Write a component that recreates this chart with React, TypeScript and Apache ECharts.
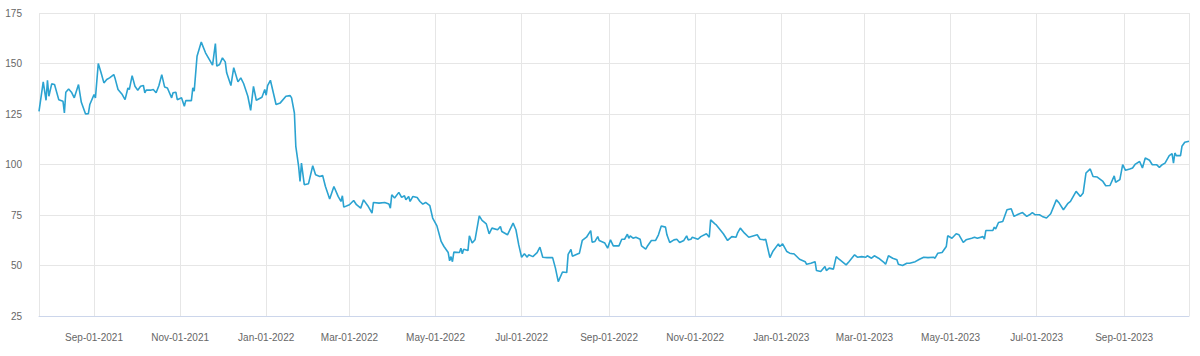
import React, { useEffect, useRef } from "react";
import * as echarts from "echarts";

// Base date for day offsets (Sep 1, 2021)
const BASE_YEAR = 2021;
const BASE_MONTH = 8; // September (0-based)
const BASE_DAY = 1;

// [days from Sep-01-2021, price]
const pricePoints: [number, number][] = [
  [-39, 126.3], [-36, 140.9], [-34, 131.8], [-33, 141.7], [-32, 133.8], [-30, 139.9], [-28, 139.6], [-25, 132.1],
  [-22, 131.3], [-21, 125.5], [-20, 135.8], [-18, 137.4], [-16, 135.8], [-14, 133], [-11, 139.6], [-9, 130.8],
  [-6, 125], [-4, 125.2], [-3, 129.7], [0, 134.6], [1, 133], [3, 150], [5, 145.4], [7, 140.4], [9, 142.1],
  [11, 142.9], [14, 144.5], [15, 142.4], [17, 137.1], [20, 134.6], [22, 132.1], [24, 137.9], [25, 137.1],
  [27, 144], [29, 138.7], [31, 136.8], [33, 138.7], [35, 139.1], [36, 135.5], [37, 136.8], [40, 136.8],
  [42, 137.1], [44, 135.5], [46, 139.1], [48, 144.5], [50, 138.4], [52, 137.9], [55, 133], [56, 135.5],
  [58, 135.8], [59, 132.1], [62, 133], [64, 128.8], [65, 131.6], [69, 131.6], [70, 137.9], [71, 136.3],
  [73, 153.6], [76, 160.6], [79, 155.3], [84, 149.2], [86, 159.9], [87, 148.7], [89, 149.5], [91, 152.8],
  [93, 150.8], [94, 145.4], [97, 139.1], [99, 147.9], [102, 140.9], [104, 142.9], [106, 140.1], [109, 133.8],
  [111, 126.8], [113, 138.7], [115, 131.8], [119, 133.3], [121, 137.1], [122, 134.3], [123, 139.1], [125, 141.7],
  [129, 129.7], [132, 130.5], [136, 133.8], [139, 134.1], [140, 133], [142, 125.5], [143, 109], [145, 99.1],
  [146, 91.6], [147, 100.7], [149, 90], [152, 90.5], [155, 99.4], [157, 94.9], [160, 94.1], [162, 94.6],
  [164, 89.1], [167, 82.9], [170, 89.1], [173, 84.2], [175, 81.7], [176, 84.5], [177, 78.9], [181, 80.1],
  [184, 82.2], [186, 80.1], [189, 78.4], [191, 82.5], [194, 79.6], [197, 75.9], [198, 81.2], [202, 80.9],
  [206, 81.2], [209, 80.4], [210, 78.4], [211, 85], [213, 83.4], [216, 86.2], [218, 83.7], [220, 84.5],
  [221, 82.5], [223, 84.2], [224, 81.7], [226, 84.2], [229, 83.7], [231, 81.7], [233, 80.4], [235, 81.2],
  [238, 79.6], [240, 73.5], [243, 69.6], [246, 61.9], [248, 59.4], [251, 56.4], [252, 52.3], [253, 54.4],
  [254, 51.9], [255, 56.6], [259, 56.4], [260, 58.6], [261, 55.8], [262, 58.1], [265, 57.4], [266, 64.7],
  [268, 61.1], [270, 62.7], [273, 74.6], [275, 72.3], [278, 70.6], [280, 65.7], [282, 68.5], [286, 67.7],
  [288, 69.3], [289, 66.8], [293, 65.2], [297, 71], [299, 67.7], [301, 60.2], [303, 54.1], [305, 55.8],
  [307, 54.1], [308, 55.3], [311, 54.4], [314, 56.4], [316, 59.1], [318, 54.1], [321, 53.9], [325, 53.9],
  [327, 48.7], [329, 42], [332, 46.8], [335, 46.5], [336, 55.5], [338, 58], [339, 54.6], [343, 55.8],
  [344, 56.1], [346, 62.4], [349, 64], [352, 67.3], [353, 61.5], [355, 61.9], [357, 64.3], [358, 62.4],
  [362, 61.1], [364, 58.6], [366, 62.7], [368, 59.7], [372, 59.7], [374, 63], [376, 63], [378, 65.5],
  [379, 63.5], [380, 64.7], [382, 63.5], [384, 64], [387, 63], [388, 59.7], [391, 58.1], [392, 59.4],
  [395, 62.4], [398, 62.4], [400, 65.2], [402, 69.6], [405, 69], [406, 65.2], [408, 61.4], [411, 62.7],
  [413, 63], [415, 61.4], [418, 62.4], [420, 64.7], [421, 62.7], [423, 63], [424, 64], [428, 63],
  [430, 64.3], [434, 65.7], [436, 64], [437, 72.6], [440, 70.6], [441, 70.1], [446, 65.7], [449, 62.4],
  [452, 64.3], [455, 64], [456, 66], [458, 68.5], [461, 66], [464, 64], [470, 65.2], [472, 63],
  [475, 62.7], [476, 63], [479, 53.9], [481, 56.9], [485, 60.7], [486, 59.4], [488, 60.7], [491, 56.9],
  [493, 56.1], [495, 55.8], [496, 55.8], [500, 53.1], [504, 51.9], [505, 50.6], [508, 51.1], [511, 51.9],
  [512, 47.5], [515, 47], [518, 49.5], [519, 47.5], [521, 48.7], [524, 48.2], [526, 54.4], [528, 53.1],
  [533, 50.3], [535, 51.9], [539, 55.3], [541, 54.1], [544, 54.4], [547, 54.1], [548, 54.8], [551, 53.6],
  [553, 54.8], [556, 53.6], [560, 51.4], [561, 50.6], [563, 54.8], [566, 53.6], [569, 52.8], [570, 50.6],
  [573, 50], [576, 51.1], [578, 51.1], [582, 51.9], [585, 53.1], [588, 54.1], [591, 53.9], [595, 54.1],
  [596, 53.6], [598, 56.1], [601, 56.4], [604, 59.4], [605, 64.7], [608, 63.5], [611, 65.7], [613, 65.2],
  [616, 61.4], [618, 62.7], [622, 63.5], [624, 64], [626, 63.5], [630, 64.3], [631, 63], [632, 67.3],
  [637, 67.3], [638, 69], [639, 68.1], [641, 71.3], [644, 71.8], [647, 77.6], [650, 78.1], [652, 74.3],
  [655, 75.4], [658, 76.2], [661, 74.3], [663, 75.1], [665, 76.2], [667, 75.1], [670, 75.1], [672, 74.3],
  [675, 73.5], [678, 75.6], [682, 82.5], [684, 80.9], [687, 77.6], [690, 80.6], [692, 81.7], [696, 86.7],
  [699, 84.2], [701, 85.9], [703, 95.8], [706, 97.8], [708, 94.1], [711, 93.8], [715, 91.6], [717, 89.5],
  [720, 89.6], [723, 94.4], [724, 91.2], [727, 92.5], [729, 99.9], [731, 97.1], [734, 97.8], [736, 98.3],
  [738, 100.2], [741, 101.5], [743, 98.3], [745, 103.2], [748, 102.1], [750, 99.9], [753, 99.9], [755, 98.6],
  [757, 99.9], [759, 100.7], [762, 104.4], [764, 105.4], [765, 100.7], [766, 105.7], [767, 104.4], [770, 104.4],
  [771, 109], [773, 111], [776, 111.5],
];

const Y_MIN = 25;
const Y_MAX = 175;
const Y_STEP = 25;

const MONTH_NAMES = ["Jan", "Feb", "Mar", "Apr", "May", "Jun", "Jul", "Aug", "Sep", "Oct", "Nov", "Dec"];

function toTime(offset: number): number {
  return new Date(BASE_YEAR, BASE_MONTH, BASE_DAY + offset).getTime();
}

function fmtDate(v: number): string {
  const d = new Date(v);
  const dd = String(d.getDate()).padStart(2, "0");
  return `${MONTH_NAMES[d.getMonth()]}-${dd}-${d.getFullYear()}`;
}

export default function App() {
  const ref = useRef<HTMLDivElement>(null);
  useEffect(() => {
    if (!ref.current) return;
    const chart = echarts.init(ref.current, undefined, { renderer: "svg" });
    const data = pricePoints.map(([o, v]) => [toTime(o), v]);
    const DAY = 24 * 3600 * 1000;
    chart.setOption({
      animation: false,
      grid: { left: 39, right: 11, top: 13, bottom: 40, containLabel: false },
      xAxis: {
        type: "time",
        min: "dataMin",
        max: "dataMax",
        splitNumber: 11,
        minInterval: 70 * DAY,
        maxInterval: 75 * DAY,
        axisLine: { show: true, lineStyle: { color: "#ccd6eb", width: 1 } },
        axisTick: { show: false },
        axisLabel: {
          formatter: (v: number) => fmtDate(v),
          color: "#666666",
          fontSize: 10,
          fontFamily: "Liberation Sans, Arial, sans-serif",
          margin: 16,
          showMinLabel: false,
          showMaxLabel: false,
          hideOverlap: false,
          rich: {},
        },
        splitLine: { show: true, lineStyle: { color: "#e6e6e6", width: 1 } },
      },
      yAxis: {
        type: "value",
        min: Y_MIN,
        max: Y_MAX,
        interval: Y_STEP,
        axisLine: { show: false },
        axisTick: { show: false },
        axisLabel: {
          color: "#666666",
          fontSize: 10,
          fontFamily: "Liberation Sans, Arial, sans-serif",
          margin: 17,
        },
        splitLine: { show: true, lineStyle: { color: "#e6e6e6", width: 1 } },
      },
      series: [
        {
          type: "line",
          data,
          showSymbol: false,
          symbol: "none",
          lineStyle: { color: "#2ba3d1", width: 1.6 },
          itemStyle: { color: "#2ba3d1" },
        },
      ],
    });
    return () => chart.dispose();
  }, []);
  return (
    <div
      ref={ref}
      style={{ position: "fixed", left: 0, top: 0, width: 1200, height: 356, background: "#ffffff" }}
    />
  );
}
